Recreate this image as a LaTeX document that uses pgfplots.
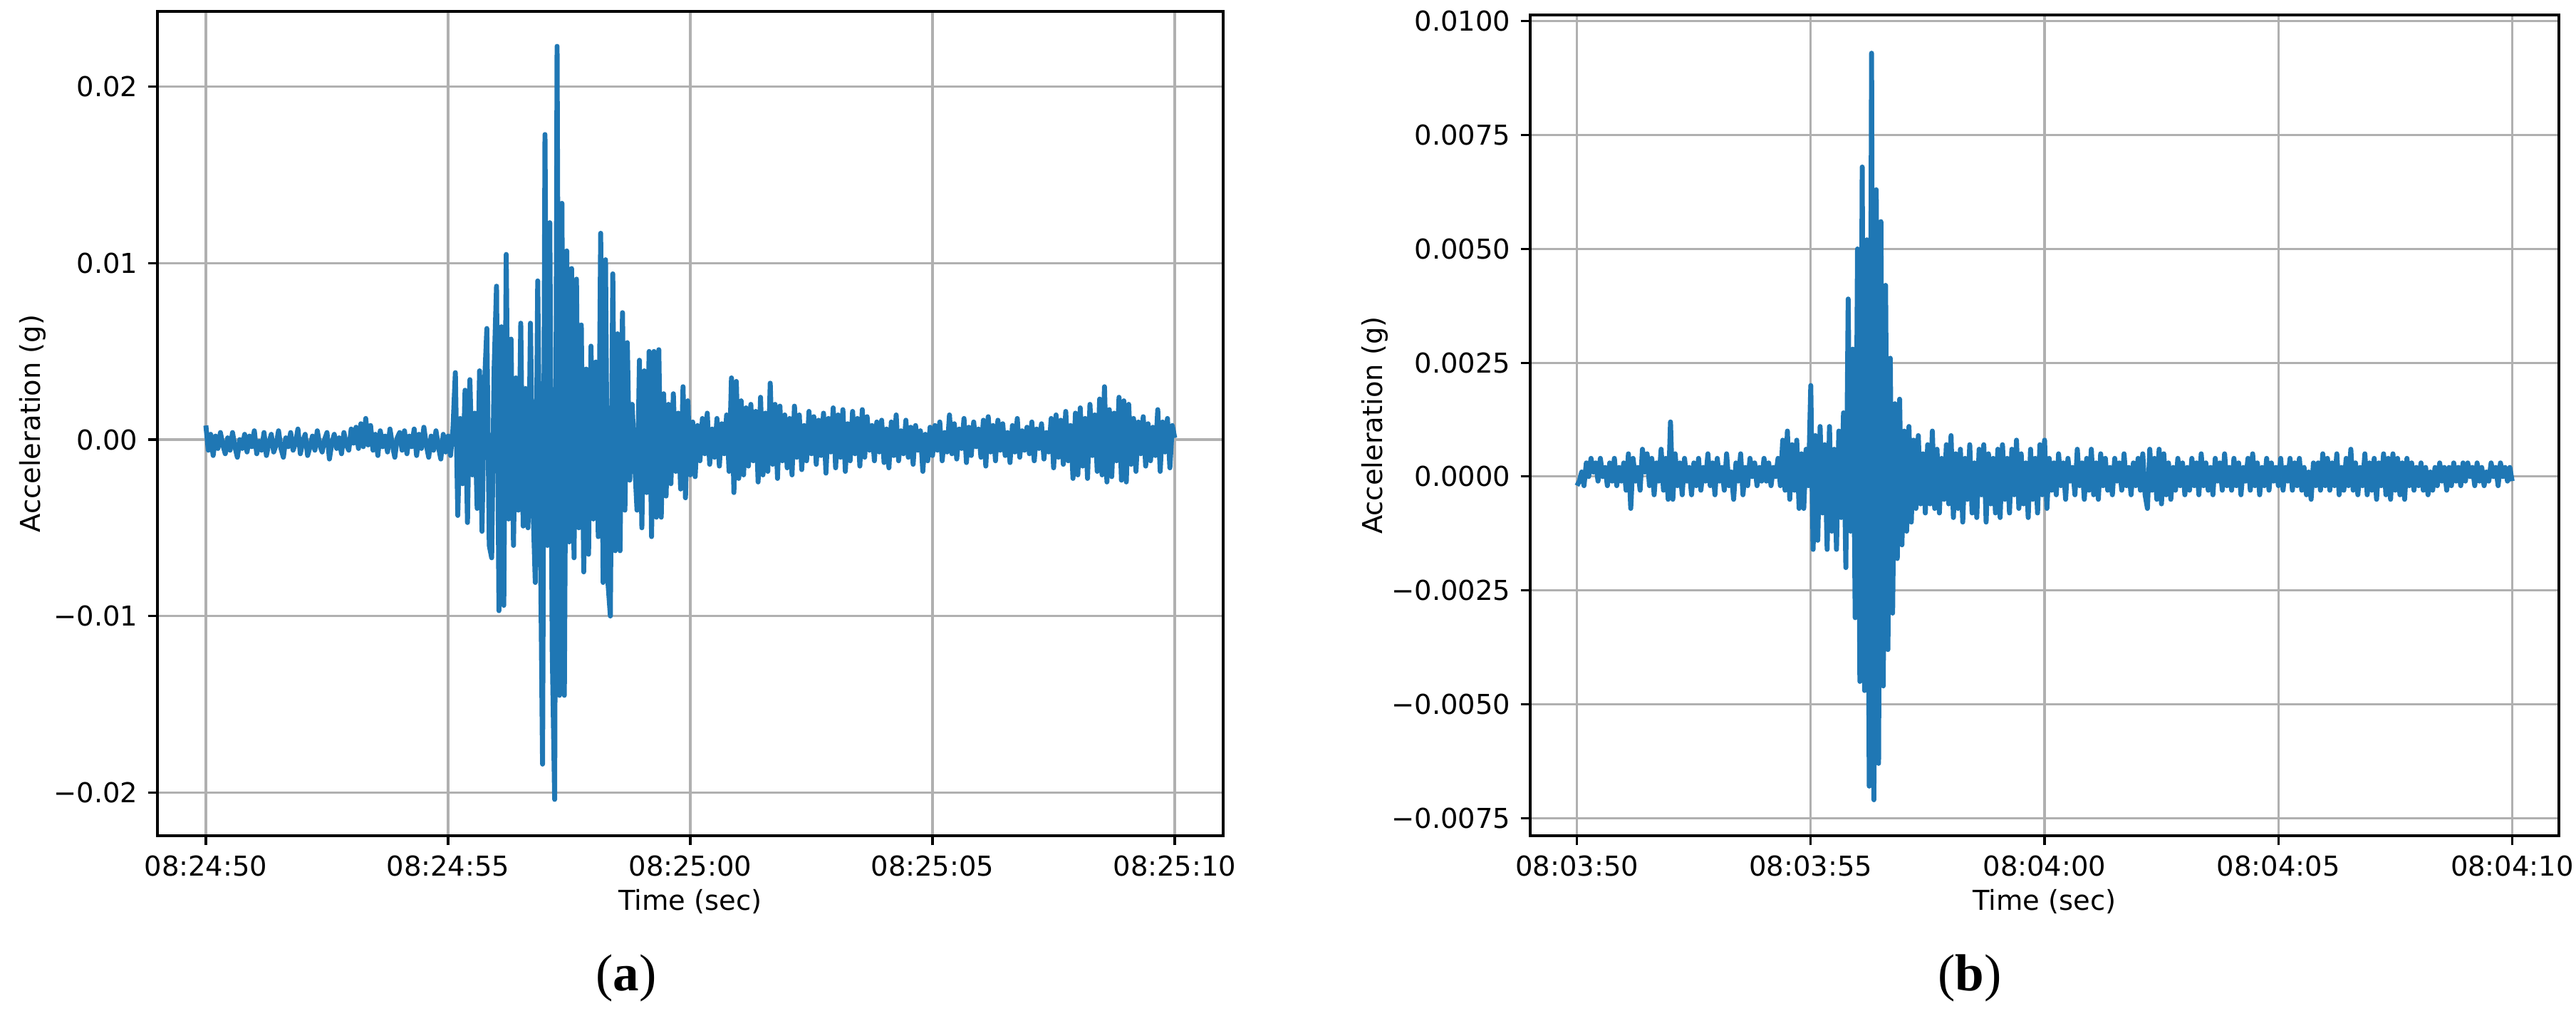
\documentclass[border=0pt]{standalone}
\usepackage{fontspec}
\setmainfont{DejaVu Sans}
\newfontfamily\capfont{Liberation Serif}
\usepackage{pgfplots}
\pgfplotsset{compat=1.18}
\definecolor{mplblue}{HTML}{1F77B4}
\definecolor{mplgrid}{HTML}{B0B0B0}
\pgfplotsset{mpl/.style={
  scale only axis, anchor=south west,
  xmin=49, xmax=71,
  tick align=outside, major tick length=3.5pt,
  every tick/.style={black, line width=0.8pt},
  axis line style={line width=0.8pt},
  tick pos=left,
  grid=major, major grid style={mplgrid, line width=0.8pt},
  xtick={50,55,60,65,70},
  ticklabel style={font=\fontsize{10}{12}\selectfont, inner sep=0pt},
  xticklabel shift=3.5pt, yticklabel shift=3.5pt,
  label style={font=\fontsize{10}{12}\selectfont},
  xlabel={Time (sec)}, ylabel={Acceleration (g)},
}}
\begin{document}
\begin{tikzpicture}
\useasboundingbox (0,0) rectangle (940.16pt,-368.94pt);
\begin{axis}[mpl,
  at={(57.46pt,-304.98pt)}, width=388.96pt, height=300.82pt,
  ymin=-0.02246, ymax=0.02428,
  xticklabels={08:24:50,08:24:55,08:25:00,08:25:05,08:25:10},
  ytick={-0.02,-0.01,0,0.01,0.02},
  yticklabels={−0.02,−0.01,0.00,0.01,0.02},
  xlabel style={at={(axis description cs:0.5,-0.0795)}, anchor=center},
  ylabel style={at={(axis description cs:-0.117,0.5)}, anchor=center},
]
\addplot[mplblue, line width=1.8pt, line join=round, mark=none] table[header=false, row sep=\\, x expr={50+0.05*\coordindex}, y index=0] {
0.0008\\ -0.0006\\ 0.0003\\ -0.0009\\ 0.0002\\ -0.0005\\ 0.0004\\ -0.0003\\ -0.0008\\ 0.0001\\ -0.0006\\ 0.0004\\ -0.0004\\ -0.0010\\ 0\\ -0.0005\\ 0.0003\\ -0.0007\\ 0.0002\\ -0.0004\\
0.0005\\ -0.0008\\ -0.0001\\ -0.0006\\ 0.0004\\ -0.0009\\ -0.0002\\ 0.0003\\ -0.0007\\ -0.0003\\ 0.0005\\ -0.0005\\ -0.0010\\ 0.0001\\ -0.0004\\ 0.0004\\ -0.0006\\ -0.0002\\ 0.0006\\ -0.0008\\
-0.0001\\ 0.0003\\ -0.0009\\ -0.0004\\ 0.0002\\ -0.0006\\ 0.0005\\ -0.0003\\ -0.0007\\ 0\\ 0.0004\\ -0.0011\\ -0.0002\\ 0.0003\\ -0.0005\\ 0.0001\\ -0.0008\\ 0.0004\\ -0.0003\\ -0.0006\\
0.0006\\ -0.0002\\ 0.0007\\ -0.0005\\ 0.0009\\ -0.0004\\ 0.0012\\ -0.0003\\ 0.0008\\ -0.0006\\ 0.0003\\ -0.0009\\ 0.0005\\ -0.0004\\ 0.0002\\ -0.0007\\ 0.0006\\ -0.0003\\ -0.0010\\ 0.0001\\
0.0004\\ -0.0006\\ 0.0005\\ -0.0008\\ 0.0002\\ -0.0004\\ 0.0006\\ -0.0009\\ 0.0003\\ -0.0005\\ 0.0007\\ -0.0003\\ -0.0010\\ 0.0002\\ -0.0006\\ 0.0005\\ -0.0004\\ -0.0011\\ 0.0003\\ -0.0007\\
0.0002\\ -0.0009\\ 0.0006\\ 0.0038\\ -0.0043\\ 0.0012\\ -0.0025\\ 0.0028\\ -0.0047\\ 0.0034\\ -0.0020\\ 0.0015\\ -0.0039\\ 0.0039\\ -0.0052\\ 0.0030\\ 0.0063\\ -0.0060\\ -0.0067\\ 0.0040\\
0.0087\\ -0.0097\\ 0.0064\\ -0.0094\\ 0.0105\\ -0.0045\\ 0.0057\\ -0.0060\\ 0.0035\\ -0.0040\\ 0.0066\\ -0.0049\\ 0.0029\\ -0.0050\\ 0.0066\\ -0.0035\\ -0.0081\\ 0.0090\\ -0.0040\\ -0.0184\\
0.0173\\ -0.0060\\ 0.0123\\ -0.0120\\ -0.0204\\ 0.0223\\ -0.0145\\ 0.0134\\ -0.0145\\ 0.0107\\ -0.0058\\ 0.0097\\ -0.0067\\ 0.0091\\ -0.0050\\ 0.0065\\ -0.0075\\ 0.0040\\ -0.0065\\ 0.0053\\
-0.0045\\ 0.0044\\ -0.0055\\ 0.0117\\ -0.0081\\ 0.0102\\ -0.0081\\ -0.0100\\ 0.0094\\ -0.0063\\ 0.0060\\ -0.0063\\ 0.0072\\ -0.0040\\ 0.0055\\ -0.0023\\ 0.0020\\ -0.0012\\ -0.0040\\ 0.0045\\
-0.0050\\ 0.0039\\ -0.0030\\ 0.0050\\ -0.0055\\ 0.0050\\ -0.0044\\ 0.0051\\ -0.0044\\ 0.0026\\ -0.0032\\ 0.0020\\ -0.0025\\ 0.0026\\ -0.0018\\ 0.0015\\ -0.0028\\ 0.0030\\ -0.0033\\ 0.0022\\
-0.0020\\ 0.0010\\ -0.0021\\ 0.0008\\ -0.0012\\ 0.0012\\ -0.0008\\ 0.0015\\ -0.0014\\ 0.0006\\ -0.0010\\ 0.0012\\ -0.0015\\ 0.0009\\ -0.0008\\ 0.0014\\ -0.0018\\ 0.0035\\ -0.0030\\ 0.0033\\
-0.0022\\ 0.0022\\ -0.0020\\ 0.0018\\ -0.0015\\ 0.0020\\ -0.0012\\ 0.0016\\ -0.0024\\ 0.0024\\ -0.0020\\ 0.0015\\ -0.0018\\ 0.0032\\ -0.0014\\ 0.0020\\ -0.0022\\ 0.0019\\ -0.0012\\ 0.0014\\
-0.0016\\ 0.0012\\ -0.0020\\ 0.0019\\ -0.0010\\ 0.0014\\ -0.0017\\ 0.0008\\ -0.0012\\ 0.0016\\ -0.0008\\ 0.0013\\ -0.0014\\ 0.0011\\ -0.0009\\ 0.0015\\ -0.0019\\ 0.0012\\ -0.0007\\ 0.0018\\
-0.0016\\ 0.0014\\ -0.0010\\ 0.0017\\ -0.0018\\ 0.0009\\ -0.0012\\ 0.0016\\ -0.0008\\ 0.0012\\ -0.0015\\ 0.0017\\ -0.0010\\ 0.0013\\ -0.0006\\ 0.0008\\ -0.0012\\ 0.0010\\ -0.0007\\ 0.0011\\
-0.0013\\ 0.0006\\ -0.0016\\ 0.0010\\ -0.0009\\ 0.0014\\ -0.0012\\ 0.0005\\ -0.0008\\ 0.0011\\ -0.0010\\ 0.0007\\ -0.0014\\ 0.0008\\ -0.0006\\ 0.0005\\ -0.0018\\ 0.0003\\ -0.0012\\ 0.0007\\
-0.0009\\ 0.0008\\ -0.0006\\ 0.0010\\ -0.0012\\ 0.0004\\ -0.0007\\ 0.0014\\ -0.0008\\ 0.0009\\ -0.0011\\ 0.0006\\ -0.0005\\ 0.0012\\ -0.0013\\ 0.0007\\ -0.0009\\ 0.0010\\ -0.0004\\ 0.0006\\
-0.0010\\ 0.0011\\ -0.0015\\ 0.0013\\ -0.0007\\ 0.0008\\ -0.0012\\ 0.0011\\ -0.0006\\ 0.0009\\ -0.0009\\ 0.0004\\ -0.0013\\ 0.0008\\ -0.0007\\ 0.0012\\ -0.0010\\ 0.0005\\ -0.0006\\ 0.0007\\
-0.0008\\ 0.0010\\ -0.0012\\ 0.0006\\ -0.0005\\ 0.0009\\ -0.0011\\ 0.0004\\ -0.0007\\ 0.0012\\ -0.0016\\ 0.0014\\ -0.0010\\ 0.0011\\ -0.0014\\ 0.0016\\ -0.0012\\ 0.0008\\ -0.0022\\ 0.0015\\
-0.0020\\ 0.0018\\ -0.0015\\ 0.0012\\ -0.0022\\ 0.0020\\ -0.0009\\ 0.0014\\ -0.0018\\ 0.0023\\ -0.0020\\ 0.0030\\ -0.0024\\ 0.0017\\ -0.0021\\ 0.0015\\ -0.0012\\ 0.0024\\ -0.0023\\ 0.0022\\
-0.0024\\ 0.0020\\ -0.0014\\ 0.0012\\ -0.0018\\ 0.0010\\ -0.0008\\ 0.0013\\ -0.0015\\ 0.0009\\ -0.0012\\ 0.0007\\ -0.0009\\ 0.0017\\ -0.0018\\ 0.0010\\ -0.0007\\ 0.0012\\ -0.0016\\ 0.0008\\
0.0001\\
};
\end{axis}
\begin{axis}[mpl,
  at={(558.48pt,-304.98pt)}, width=375.44pt, height=299.52pt,
  ymin=-0.00789, ymax=0.01014,
  xticklabels={08:03:50,08:03:55,08:04:00,08:04:05,08:04:10},
  ytick={-0.0075,-0.005,-0.0025,0,0.0025,0.005,0.0075,0.01},
  yticklabels={−0.0075,−0.0050,−0.0025,0.0000,0.0025,0.0050,0.0075,0.0100},
  xlabel style={at={(axis description cs:0.5,-0.0799)}, anchor=center},
  ylabel style={at={(axis description cs:-0.151,0.5)}, anchor=center},
]
\addplot[mplblue, line width=1.8pt, line join=round, mark=none] table[header=false, row sep=\\, x expr={50+0.05*\coordindex}, y index=0] {
-0.0002\\ -0.0001\\ 0.0001\\ -0.0002\\ 0.0003\\ 0\\ 0.0004\\ 0.0001\\ 0.0003\\ -0.0001\\ 0.0004\\ 0\\ 0.0002\\ -0.0002\\ 0.0003\\ -0.0001\\ 0.0004\\ -0.0002\\ 0.0002\\ -0.0001\\
0.0003\\ -0.0003\\ 0.0005\\ -0.0007\\ 0.0004\\ -0.0001\\ 0.0002\\ -0.0003\\ 0.0006\\ 0.0001\\ 0.0005\\ -0.0002\\ 0.0004\\ -0.0004\\ 0.0003\\ -0.0001\\ 0.0006\\ -0.0003\\ 0.0004\\ -0.0005\\
0.0012\\ -0.0005\\ 0.0005\\ -0.0002\\ 0.0003\\ -0.0004\\ 0.0004\\ -0.0001\\ 0.0002\\ -0.0004\\ 0.0003\\ -0.0002\\ 0.0004\\ -0.0003\\ 0.0002\\ -0.0001\\ 0.0005\\ -0.0002\\ 0.0003\\ -0.0004\\
0.0004\\ -0.0001\\ 0.0002\\ -0.0003\\ 0.0005\\ -0.0002\\ 0.0001\\ -0.0005\\ 0.0003\\ -0.0001\\ 0.0005\\ -0.0004\\ 0.0002\\ -0.0002\\ 0.0004\\ 0\\ 0.0003\\ -0.0002\\ 0.0002\\ -0.0001\\
0.0004\\ -0.0001\\ 0.0003\\ -0.0002\\ 0.0002\\ 0\\ 0.0004\\ -0.0002\\ 0.0008\\ -0.0003\\ 0.0010\\ -0.0005\\ 0.0007\\ -0.0003\\ 0.0008\\ -0.0007\\ 0.0005\\ -0.0007\\ 0.0006\\ -0.0002\\
0.0020\\ -0.0016\\ 0.0009\\ -0.0014\\ 0.0011\\ -0.0008\\ 0.0007\\ -0.0016\\ 0.0011\\ -0.0012\\ 0.0006\\ -0.0016\\ 0.0010\\ -0.0009\\ 0.0014\\ -0.0020\\ 0.0039\\ -0.0012\\ 0.0028\\ -0.0031\\
0.0050\\ -0.0045\\ 0.0068\\ -0.0047\\ 0.0052\\ -0.0068\\ 0.0093\\ -0.0071\\ 0.0063\\ -0.0063\\ 0.0056\\ -0.0046\\ 0.0042\\ -0.0038\\ 0.0026\\ -0.0030\\ 0.0016\\ -0.0018\\ 0.0017\\ -0.0015\\
0.0010\\ -0.0012\\ 0.0011\\ -0.0010\\ 0.0008\\ -0.0007\\ 0.0009\\ -0.0006\\ 0.0005\\ -0.0008\\ 0.0007\\ -0.0006\\ 0.0010\\ -0.0007\\ 0.0006\\ -0.0008\\ 0.0004\\ -0.0005\\ 0.0007\\ -0.0006\\
0.0009\\ -0.0009\\ 0.0005\\ -0.0007\\ 0.0006\\ -0.0010\\ 0.0004\\ -0.0005\\ 0.0007\\ -0.0008\\ 0.0003\\ -0.0009\\ 0.0006\\ -0.0004\\ 0.0007\\ -0.0010\\ 0.0005\\ -0.0006\\ 0.0004\\ -0.0008\\
0.0006\\ -0.0009\\ 0.0007\\ -0.0005\\ 0.0004\\ -0.0008\\ 0.0006\\ -0.0004\\ 0.0008\\ -0.0007\\ 0.0005\\ -0.0006\\ 0.0003\\ -0.0009\\ 0.0006\\ -0.0005\\ 0.0004\\ -0.0008\\ 0.0007\\ -0.0004\\
0.0008\\ -0.0007\\ 0.0004\\ -0.0003\\ 0.0003\\ -0.0004\\ 0.0005\\ -0.0002\\ 0.0003\\ -0.0005\\ 0.0004\\ -0.0001\\ 0.0002\\ -0.0004\\ 0.0006\\ -0.0002\\ 0.0003\\ -0.0005\\ 0.0004\\ -0.0003\\
0.0006\\ -0.0004\\ 0.0003\\ -0.0005\\ 0.0005\\ -0.0002\\ 0.0004\\ -0.0003\\ 0.0002\\ -0.0004\\ 0.0004\\ -0.0001\\ 0.0003\\ -0.0003\\ 0.0005\\ -0.0002\\ 0.0002\\ -0.0004\\ 0.0003\\ -0.0002\\
0.0004\\ -0.0003\\ 0.0005\\ -0.0004\\ -0.0007\\ 0.0006\\ -0.0003\\ 0.0004\\ -0.0005\\ 0.0006\\ -0.0006\\ 0.0005\\ -0.0004\\ 0.0003\\ -0.0005\\ 0.0002\\ -0.0003\\ 0.0004\\ -0.0002\\ 0.0003\\
-0.0004\\ 0.0002\\ -0.0003\\ 0.0004\\ -0.0002\\ 0.0003\\ -0.0004\\ 0.0005\\ -0.0002\\ 0.0003\\ -0.0003\\ 0.0002\\ -0.0004\\ 0.0004\\ -0.0001\\ 0.0003\\ -0.0003\\ 0.0005\\ -0.0002\\ 0.0002\\
-0.0003\\ 0.0004\\ -0.0002\\ 0.0003\\ -0.0004\\ 0.0002\\ -0.0001\\ 0.0004\\ -0.0003\\ 0.0005\\ -0.0002\\ 0.0003\\ -0.0004\\ 0.0002\\ -0.0002\\ 0.0004\\ -0.0003\\ 0.0003\\ -0.0001\\ 0.0002\\
-0.0002\\ 0.0004\\ -0.0003\\ 0.0002\\ -0.0001\\ 0.0004\\ -0.0003\\ 0.0003\\ -0.0002\\ 0.0004\\ -0.0003\\ 0.0002\\ -0.0004\\ 0.0001\\ -0.0005\\ 0.0003\\ -0.0002\\ 0.0003\\ -0.0003\\ 0.0005\\
-0.0002\\ 0.0004\\ -0.0003\\ 0.0003\\ -0.0002\\ 0.0005\\ -0.0004\\ 0.0002\\ -0.0003\\ 0.0004\\ -0.0002\\ 0.0006\\ -0.0003\\ 0.0003\\ -0.0004\\ 0.0002\\ -0.0002\\ 0.0005\\ -0.0004\\ 0.0003\\
-0.0003\\ 0.0004\\ -0.0005\\ 0.0003\\ -0.0002\\ 0.0005\\ -0.0004\\ 0.0004\\ -0.0005\\ 0.0005\\ -0.0003\\ 0.0004\\ -0.0004\\ 0.0003\\ -0.0005\\ 0.0004\\ -0.0002\\ 0.0003\\ -0.0003\\ 0.0002\\
-0.0002\\ 0.0003\\ -0.0003\\ 0.0002\\ -0.0004\\ 0.0001\\ -0.0003\\ 0.0002\\ -0.0002\\ 0.0003\\ -0.0001\\ 0.0002\\ -0.0003\\ 0.0002\\ -0.0002\\ 0.0003\\ -0.0001\\ 0.0002\\ -0.0002\\ 0.0003\\
-0.0001\\ 0.0003\\ 0\\ 0.0002\\ -0.0002\\ 0.0003\\ -0.0001\\ 0.0002\\ -0.0002\\ 0.0001\\ -0.0001\\ 0.0003\\ 0\\ 0.0002\\ -0.0002\\ 0.0003\\ 0\\ 0.0002\\ -0.0001\\ 0.0002\\
-0.0001\\
};
\end{axis}
\node[font=\capfont\fontsize{19}{23}\selectfont] at (228.5pt,-357.0pt) {(\textbf{a})};
\node[font=\capfont\fontsize{19}{23}\selectfont] at (718.9pt,-357.0pt) {(\textbf{b})};
\end{tikzpicture}
\end{document}
